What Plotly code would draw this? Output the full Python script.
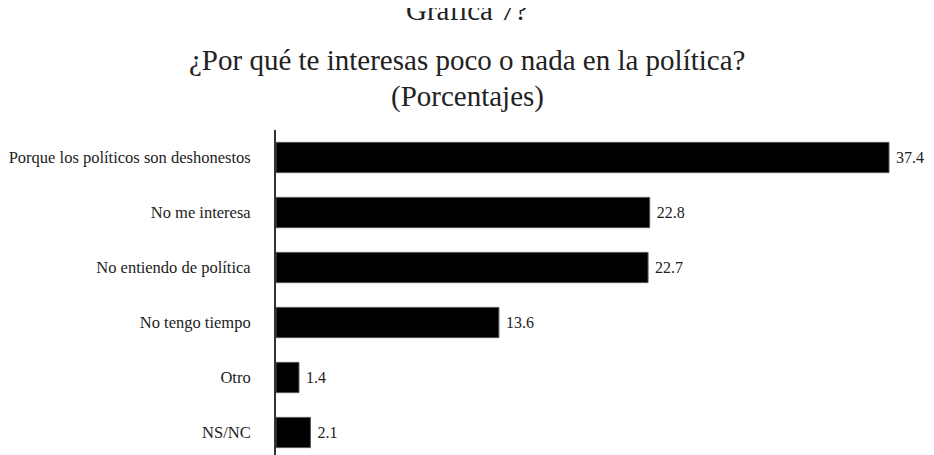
import plotly.graph_objects as go

categories = [
    "Porque los políticos son deshonestos",
    "No me interesa",
    "No entiendo de política",
    "No tengo tiempo",
    "Otro",
    "NS/NC",
]
values = [37.4, 22.8, 22.7, 13.6, 1.4, 2.1]

SERIF = "Liberation Serif, Times New Roman, serif"
INK = "#222222"

# the page has an 8px body margin; keep the figure inside the window so
# nothing overflows
OFF = 8
FIG_W = 934 - 2 * OFF
FIG_H = 455 - OFF
PLOT_TOP = 130  # page pixel row of the plot area top
PLOT_LEFT = 276
PLOT_RIGHT = OFF + FIG_W
PLOT_BOTTOM = OFF + FIG_H
ROW = 55.0   # pixels per category
UNIT = 16.39  # pixels per percentage point


def py(page_y):
    # page pixel row -> paper coordinate of the plot area
    return (PLOT_BOTTOM - page_y) / (PLOT_BOTTOM - PLOT_TOP)


fig = go.Figure(go.Bar(
    x=values,
    y=list(range(len(categories))),
    orientation="h",
    marker=dict(color="#000000", line=dict(color="#555555", width=1)),
    width=0.55,
    text=[f"\u00a0{v}" for v in values],
    textposition="outside",
    textfont=dict(family=SERIF, size=16, color=INK),
    cliponaxis=False,
    hoverinfo="skip",
))

fig.update_layout(
    width=FIG_W,
    height=FIG_H,
    margin=dict(l=PLOT_LEFT - OFF, r=0, t=PLOT_TOP - OFF, b=0),
    paper_bgcolor="white",
    plot_bgcolor="white",
    showlegend=False,
    font=dict(family=SERIF, color=INK),
    xaxis=dict(range=[0, (PLOT_RIGHT - PLOT_LEFT) / UNIT],
               visible=False, fixedrange=True),
    yaxis=dict(
        range=[(PLOT_BOTTOM - PLOT_TOP) / ROW - 0.5, -0.5],
        tickmode="array",
        tickvals=list(range(len(categories))),
        ticktext=categories,
        tickfont=dict(family=SERIF, size=16.5, color=INK),
        ticks="",
        ticklabelstandoff=20,
        showgrid=False,
        zeroline=False,
        showline=True,
        linecolor="#333333",
        linewidth=2,
        fixedrange=True,
    ),
)

# titles centred on the full page rather than the plot area
page_centre = (467 - PLOT_LEFT) / (PLOT_RIGHT - PLOT_LEFT)
titles = [
    ("Gráfica 7?", 10),
    ("¿Por qué te interesas poco o nada en la política?", 60),
    ("(Porcentajes)", 97),
]
for txt, row in titles:
    fig.add_annotation(
        text=txt, x=page_centre, xref="paper", xanchor="center",
        y=py(row), yref="paper", yanchor="middle", showarrow=False,
        font=dict(family=SERIF, size=29, color=INK),
    )

fig.write_html("out.html")
